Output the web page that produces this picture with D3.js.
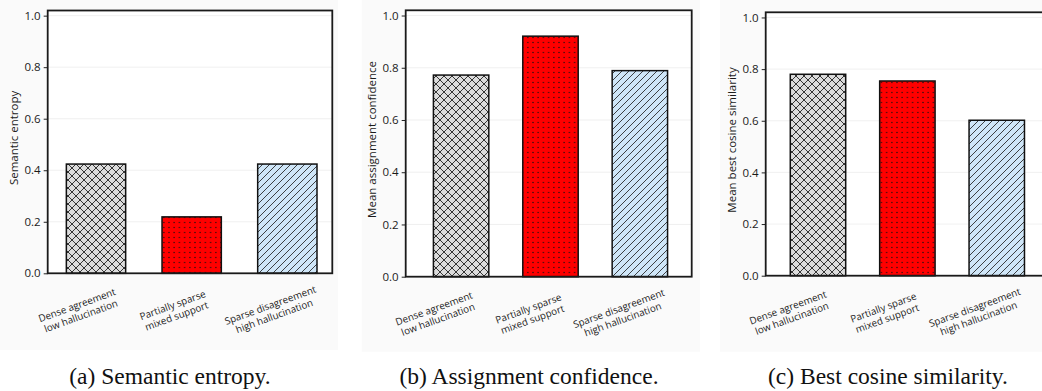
<!DOCTYPE html>
<html>
<head>
<meta charset="utf-8">
<script src="https://cdn.jsdelivr.net/npm/d3@7"></script>
<style>
  html, body { margin: 0; padding: 0; background: #ffffff; }
  svg { display: block; }
  .cap { font-family: "Liberation Serif", "DejaVu Serif", serif; }
  .sans { font-family: "Open Sans", "DejaVu Sans", sans-serif; }
</style>
</head>
<body>
<svg id="fig" width="1042" height="391"></svg>
<script>
// Regime categories (two-line tick labels)
const categories = [
  ["Dense agreement", "low hallucination"],
  ["Partially sparse", "mixed support"],
  ["Sparse disagreement", "high hallucination"]
];

// Metric values per regime
const semanticEntropy      = [0.424, 0.219, 0.424];
const assignmentConfidence = [0.772, 0.921, 0.789];
const bestCosineSimilarity = [0.780, 0.754, 0.602];

const yTicks = [0.0, 0.2, 0.4, 0.6, 0.8, 1.0];
const yLabels = ["Semantic entropy", "Mean assignment confidence", "Mean best cosine similarity"];
const captions = ["(a) Semantic entropy.", "(b) Assignment confidence.", "(c) Best cosine similarity."];

// Layout of the three sub-figures
const panels = [
  { values: semanticEntropy, xDomain: [-0.505, 2.47], xRange: [47.7, 332.3], yRange: [273.3, 10.5],
    bg: [0, 0, 338, 350], capX: 170, labelDx: [-17, -17, -15] },
  { values: assignmentConfidence, xDomain: [-0.62, 2.58], xRange: [405.7, 691.7], yRange: [276.7, 10.3],
    bg: [361.7, 0, 700, 351.7], capX: 529, labelDx: [-25, -20, -19] },
  { values: bestCosineSimilarity, xDomain: [-0.585, 2.6], xRange: [765.7, 1050.4], yRange: [275.7, 12.3],
    bg: [720, 0, 1042, 351.7], capX: 888, labelDx: [-28, -22, -20] }
];

const barWidth = 0.62;
const fills = ["url(#hatch-cross)", "url(#hatch-dots)", "url(#hatch-diag)"];

const svg = d3.select("#fig");
const defs = svg.append("defs");

// Cross-hatch on light grey
const pc = defs.append("pattern").attr("id", "hatch-cross")
  .attr("patternUnits", "userSpaceOnUse").attr("width", 8).attr("height", 8);
pc.append("rect").attr("width", 8).attr("height", 8).attr("fill", "#dcdcdc");
pc.append("path").attr("d", "M0,0 L8,8 M0,8 L8,0 M-1,1 L1,-1 M7,9 L9,7 M-1,7 L1,9 M7,-1 L9,1")
  .attr("stroke", "#222").attr("stroke-width", 0.9).attr("fill", "none");

// Dots on red
const pd = defs.append("pattern").attr("id", "hatch-dots")
  .attr("patternUnits", "userSpaceOnUse").attr("width", 5.2).attr("height", 5);
pd.append("rect").attr("width", 5.2).attr("height", 5).attr("fill", "#ff0000");
pd.append("circle").attr("cx", 2.6).attr("cy", 2.5).attr("r", 0.65).attr("fill", "#111");

// Diagonal hatch on light blue
const pg = defs.append("pattern").attr("id", "hatch-diag")
  .attr("patternUnits", "userSpaceOnUse").attr("width", 7).attr("height", 7);
pg.append("rect").attr("width", 7).attr("height", 7).attr("fill", "#cfe6f8");
pg.append("path").attr("d", "M0,7 L7,0 M-1,1 L1,-1 M6,8 L8,6")
  .attr("stroke", "#222").attr("stroke-width", 0.85).attr("fill", "none");

panels.forEach((p, k) => {
  const g = svg.append("g");

  // faint figure face
  g.append("rect")
    .attr("x", p.bg[0]).attr("y", p.bg[1])
    .attr("width", p.bg[2] - p.bg[0]).attr("height", p.bg[3] - p.bg[1])
    .attr("fill", "#fafafa");

  const x = d3.scaleLinear().domain(p.xDomain).range(p.xRange);
  const y = d3.scaleLinear().domain([0, 1.02]).range(p.yRange);

  // plot area
  g.append("rect")
    .attr("x", p.xRange[0]).attr("y", p.yRange[1])
    .attr("width", p.xRange[1] - p.xRange[0]).attr("height", p.yRange[0] - p.yRange[1])
    .attr("fill", "#ffffff");

  // horizontal grid
  g.selectAll(".grid").data(yTicks.slice(1)).join("line")
    .attr("x1", p.xRange[0]).attr("x2", p.xRange[1])
    .attr("y1", d => y(d)).attr("y2", d => y(d))
    .attr("stroke", "#ececec").attr("stroke-width", 0.8);

  // bars
  const bw = x(barWidth) - x(0);
  g.selectAll(".bar").data(p.values).join("rect")
    .attr("x", (d, i) => x(i) - bw / 2)
    .attr("y", d => y(d))
    .attr("width", bw)
    .attr("height", d => y(0) - y(d))
    .attr("fill", (d, i) => fills[i])
    .attr("stroke", "#111").attr("stroke-width", 1.5);

  // y axis
  const yAxis = d3.axisLeft(y).tickValues(yTicks).tickFormat(d3.format(".1f"))
    .tickSize(4).tickPadding(3);
  const ya = g.append("g").attr("transform", `translate(${p.xRange[0]},0)`).call(yAxis);
  ya.select(".domain").remove();
  ya.attr("font-family", null).attr("font-size", null);
  ya.selectAll(".tick line").attr("stroke", "#222").attr("stroke-width", 1);
  ya.selectAll(".tick text").attr("fill", "#1a1a1a").attr("class", "sans")
    .style("font-size", "11.5px");

  // frame
  g.append("rect")
    .attr("x", p.xRange[0]).attr("y", p.yRange[1])
    .attr("width", p.xRange[1] - p.xRange[0]).attr("height", p.yRange[0] - p.yRange[1])
    .attr("fill", "none").attr("stroke", "#1a1a1a").attr("stroke-width", 1.8);

  // y label
  g.append("text").attr("class", "sans")
    .attr("transform", `translate(${p.xRange[0] - 30},${(p.yRange[0] + p.yRange[1]) / 2 - 4}) rotate(-90)`)
    .attr("text-anchor", "middle")
    .style("font-size", "11.5px").attr("fill", "#1a1a1a")
    .text(yLabels[k]);

  // rotated category labels
  categories.forEach((lines, i) => {
    const cx = x(i) + p.labelDx[i];
    const cy = p.yRange[0] + 37.5;
    const t = g.append("text").attr("class", "sans")
      .attr("transform", `translate(${cx},${cy}) rotate(-20)`)
      .attr("text-anchor", "middle")
      .style("font-size", "9.8px").attr("fill", "#1a1a1a");
    lines.forEach((s, j) => {
      t.append("tspan").attr("x", 0).attr("y", j === 0 ? -2.5 : 9).text(s);
    });
  });

  // caption
  svg.append("text").attr("class", "cap")
    .attr("x", p.capX).attr("y", 384)
    .attr("text-anchor", "middle")
    .style("font-size", "23.5px").attr("fill", "#111")
    .text(captions[k]);
});
</script>
</body>
</html>
